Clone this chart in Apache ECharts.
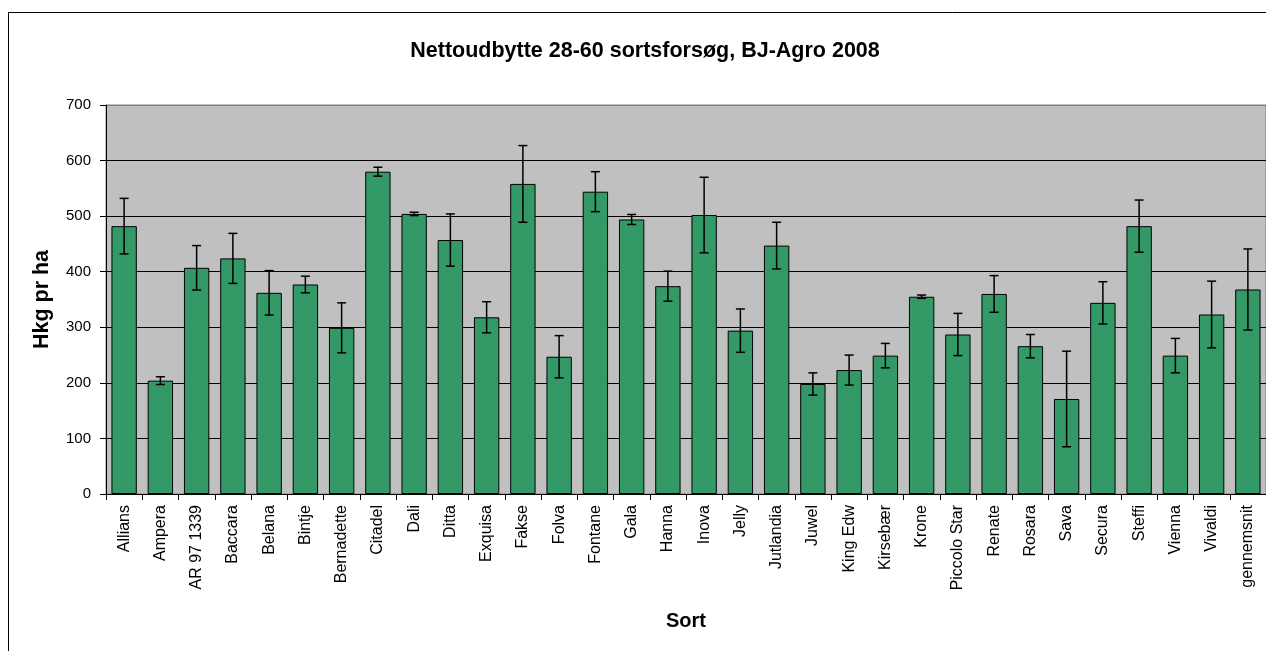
<!DOCTYPE html>
<html>
<head>
<meta charset="utf-8">
<script src="https://cdn.jsdelivr.net/npm/echarts@6/dist/echarts.min.js"></script>
<style>
html,body{margin:0;padding:0;background:#fff;}
#chart{width:1266px;height:651px;}
</style>
</head>
<body>
<div id="chart"></div>
<script>
const categories = ["Allians","Ampera","AR 97 1339","Baccara","Belana","Bintje","Bernadette","Citadel","Dali","Ditta","Exquisa","Fakse","Folva","Fontane","Gala","Hanna","Inova","Jelly","Jutlandia","Juwel","King Edw","Kirsebær","Krone","Piccolo Star","Renate","Rosara","Sava","Secura","Steffi","Vienna","Vivaldi","gennemsnit"];
const yieldValues = [482,204,407,424,362,377,299,580,504,457,318,558,247,544,494,374,502,294,447,198,223,249,355,287,360,266,171,344,482,249,323,368];
const errorValues = [50,7,40,45,40,15,45,8,3,47,28,69,38,36,9,27,68,39,42,20,27,22,3,38,33,21,86,38,47,31,60,73];
const yTicks = [0,100,200,300,400,500,600,700];
const titleText = "Nettoudbytte 28-60 sortsforsøg, BJ-Agro 2008";
const yName = "Hkg pr ha";
const xName = "Sort";

const FONT = "'Liberation Sans', Arial, sans-serif";
const chart = echarts.init(document.getElementById('chart'));

const errData = categories.map((c, i) => [i, yieldValues[i], errorValues[i]]);

chart.setOption({
  animation: false,
  backgroundColor: '#ffffff',
  title: {
    text: titleText,
    left: 640,
    top: 35,
    textAlign: 'center',
    textStyle: {fontFamily: FONT, fontSize: 21.5, fontWeight: 'bold', color: '#000'}
  },
  graphic: [{
    type: 'rect',
    shape: {x: 8.5, y: 12.5, width: 1400, height: 800},
    style: {fill: null, stroke: '#000', lineWidth: 1},
    silent: true,
    z: -10
  }],
  grid: {
    left: 106, right: 0, top: 105, bottom: 157,
    show: true, backgroundColor: '#C0C0C0', borderColor: '#808080', borderWidth: 1
  },
  xAxis: {
    type: 'category',
    data: categories,
    name: xName,
    nameLocation: 'middle',
    nameGap: 117,
    nameTextStyle: {fontFamily: FONT, fontSize: 20, fontWeight: 'bold', color: '#000'},
    axisLine: {lineStyle: {color: '#000', width: 1}},
    axisTick: {show: true, length: 6, lineStyle: {color: '#000'}},
    axisLabel: {rotate: 90, interval: 0, margin: 11, fontFamily: FONT, fontSize: 16, color: '#000'},
    splitLine: {show: false}
  },
  yAxis: {
    type: 'value',
    min: 0, max: 700, interval: 100,
    name: yName,
    nameLocation: 'middle',
    nameGap: 53,
    nameRotate: 90,
    nameTextStyle: {fontFamily: FONT, fontSize: 21.5, fontWeight: 'bold', color: '#000'},
    axisLine: {show: true, lineStyle: {color: '#000', width: 1}},
    axisTick: {show: true, length: 6, lineStyle: {color: '#000'}},
    axisLabel: {margin: 15, fontFamily: FONT, fontSize: 15, color: '#000',
      formatter: v => yTicks.includes(v) ? String(v) : ''},
    splitLine: {show: true, lineStyle: {color: ['#000','#000','#000','#000','#000','#000','#000','#808080'], width: 1}}
  },
  series: [{
    type: 'bar',
    data: yieldValues,
    barCategoryGap: '30%',
    itemStyle: {color: '#339966', borderColor: '#000', borderWidth: 1},
    z: 2
  }, {
    type: 'custom',
    data: errData,
    z: 5,
    renderItem: function (params, api) {
      const x = api.value(0), v = api.value(1), e = api.value(2);
      const top = api.coord([x, v + e]);
      const bot = api.coord([x, v - e]);
      const hw = 4.5;
      const st = {stroke: '#000', lineWidth: 1.5};
      return {
        type: 'group',
        children: [
          {type: 'line', shape: {x1: top[0], y1: top[1], x2: bot[0], y2: bot[1]}, style: st},
          {type: 'line', shape: {x1: top[0]-hw, y1: top[1], x2: top[0]+hw, y2: top[1]}, style: st},
          {type: 'line', shape: {x1: bot[0]-hw, y1: bot[1], x2: bot[0]+hw, y2: bot[1]}, style: st}
        ]
      };
    }
  }]
});
</script>
</body>
</html>
